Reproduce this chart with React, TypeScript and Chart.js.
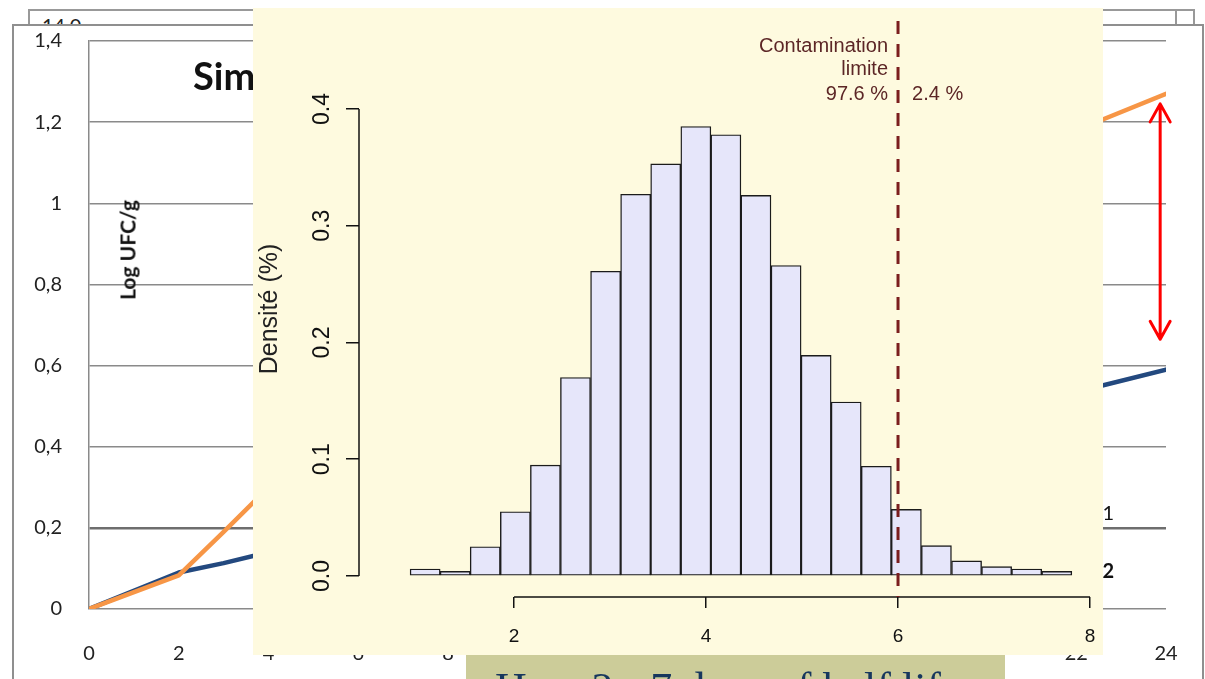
import React, { useEffect, useRef } from 'react';
import { Chart, registerables } from 'chart.js';

Chart.register(...registerables);

// ---------- Histogram (foreground) ----------
const binCenters = [1.074, 1.387, 1.700, 2.014, 2.327, 2.640, 2.954, 3.267, 3.580, 3.894, 4.207, 4.520, 4.834, 5.147, 5.460, 5.774, 6.087, 6.400, 6.714, 7.027, 7.340, 7.654];
const densities = [0.006, 0.004, 0.025, 0.055, 0.095, 0.170, 0.261, 0.327, 0.353, 0.385, 0.378, 0.326, 0.266, 0.189, 0.149, 0.094, 0.057, 0.026, 0.013, 0.008, 0.006, 0.004];
const histXTicks = [2, 4, 6, 8];
const histYTicks = [0, 0.1, 0.2, 0.3, 0.4];
const limitValue = 6;
const limitTitle = ['Contamination', 'limite'];
const shareBelow = '97.6 %';
const shareAbove = '2.4 %';
const histYTitle = 'Densité (%)';

// ---------- Background Excel line chart ----------
const hours = [0, 2, 3, 4, 6, 8, 10, 12, 14, 16, 18, 20, 22, 24];
const curveOrange = [0, 0.083, 0.19, 0.30, 0.44, 0.56, 0.67, 0.77, 0.86, 0.94, 1.02, 1.10, 1.18, 1.27];
const curveBlue = [0, 0.09, 0.113, 0.14, 0.18, 0.22, 0.26, 0.30, 0.34, 0.39, 0.43, 0.48, 0.535, 0.59];
const bgXTicks = [0, 2, 4, 6, 8, 10, 12, 14, 16, 18, 20, 22, 24];
const bgYTicks = [0, 0.2, 0.4, 0.6, 0.8, 1.0, 1.2, 1.4];
const legendEdgeValue = 0.2;
const arrowHour = 23.87;
const arrowRange = [0.665, 1.245];
const bgTitle = 'Simulation';
const bgYTitle = 'Log UFC/g';
const legendLabels = ['Série 1', 'Série 2'];
const caption = 'Hors 2 - 7 days of half life';
const backLabel = '14,0';

const HIST_FONT = '"Liberation Sans", Arial, sans-serif';
const XL_FONT = 'Lato, "Open Sans", sans-serif';

const arrowPlugin = {
  id: 'arrowPlugin',
  afterDatasetsDraw(chart: any) {
    const { ctx, scales } = chart;
    const x = scales.x;
    const y = scales.y;
    const px = x.getPixelForValue(arrowHour);
    const yTop = y.getPixelForValue(arrowRange[1]);
    const yBot = y.getPixelForValue(arrowRange[0]);
    ctx.save();
    ctx.strokeStyle = '#FF0000';
    ctx.lineWidth = 3;
    ctx.lineCap = 'round';
    ctx.lineJoin = 'round';
    ctx.beginPath();
    ctx.moveTo(px, yTop);
    ctx.lineTo(px, yBot);
    ctx.moveTo(px - 10, yTop + 18);
    ctx.lineTo(px, yTop);
    ctx.lineTo(px + 10, yTop + 18);
    ctx.moveTo(px - 10, yBot - 18);
    ctx.lineTo(px, yBot);
    ctx.lineTo(px + 10, yBot - 18);
    ctx.stroke();
    ctx.restore();
  },
};

const histPlugin = {
  id: 'histPlugin',
  afterDraw(chart: any) {
    const { ctx, chartArea, scales } = chart;
    const x = scales.x;
    const y = scales.y;
    ctx.save();
    // y axis line (0 to 0.4)
    ctx.strokeStyle = '#111';
    ctx.lineWidth = 1.5;
    const ax = chartArea.left;
    ctx.beginPath();
    ctx.moveTo(ax, y.getPixelForValue(histYTicks[0]));
    ctx.lineTo(ax, y.getPixelForValue(histYTicks[histYTicks.length - 1]));
    ctx.stroke();
    // x axis line (2 to 8)
    const by = chartArea.bottom;
    ctx.beginPath();
    ctx.moveTo(x.getPixelForValue(histXTicks[0]), by);
    ctx.lineTo(x.getPixelForValue(histXTicks[histXTicks.length - 1]), by);
    ctx.stroke();
    // rotated y tick labels
    ctx.font = `23px ${HIST_FONT}`;
    ctx.fillStyle = '#111';
    ctx.textAlign = 'center';
    ctx.textBaseline = 'middle';
    for (const v of histYTicks) {
      ctx.save();
      ctx.translate(ax - 36, y.getPixelForValue(v));
      ctx.rotate(-Math.PI / 2);
      ctx.fillText(v.toFixed(1), 0, 0);
      ctx.restore();
    }
    // dashed limit line
    const lx = x.getPixelForValue(limitValue);
    ctx.strokeStyle = '#7B1E1E';
    ctx.lineWidth = 3;
    ctx.setLineDash([13, 10]);
    ctx.beginPath();
    ctx.moveTo(lx, chartArea.top);
    ctx.lineTo(lx, chartArea.bottom);
    ctx.stroke();
    ctx.setLineDash([]);
    // annotations
    ctx.font = `20px ${HIST_FONT}`;
    ctx.fillStyle = '#5C2626';
    ctx.textAlign = 'right';
    ctx.fillText(limitTitle[0], lx - 10, chartArea.top + 25);
    ctx.fillText(limitTitle[1], lx - 10, chartArea.top + 48);
    ctx.fillText(shareBelow, lx - 10, chartArea.top + 73);
    ctx.textAlign = 'left';
    ctx.fillText(shareAbove, lx + 14, chartArea.top + 73);
    ctx.restore();
  },
};

export default function App() {
  const bgRef = useRef<HTMLCanvasElement>(null);
  const histRef = useRef<HTMLCanvasElement>(null);

  useEffect(() => {
    const bg = new Chart(bgRef.current as HTMLCanvasElement, {
      type: 'line',
      data: {
        datasets: [
          {
            label: legendLabels[0],
            data: hours.map((h, i) => ({ x: h, y: curveOrange[i] })),
            borderColor: '#F79646',
            borderWidth: 4.5,
            pointRadius: 0,
            tension: 0,
            borderJoinStyle: 'round',
            borderCapStyle: 'round',
          },
          {
            label: legendLabels[1],
            data: hours.map((h, i) => ({ x: h, y: curveBlue[i] })),
            borderColor: '#23497F',
            borderWidth: 4.5,
            pointRadius: 0,
            tension: 0,
            borderJoinStyle: 'round',
            borderCapStyle: 'round',
          },
        ],
      },
      options: {
        responsive: false,
        animation: false,
        events: [],
        layout: { padding: { top: 41, right: 39, left: 0, bottom: 0 } },
        plugins: { legend: { display: false }, tooltip: { enabled: false }, title: { display: false } },
        scales: {
          x: {
            type: 'linear',
            min: 0,
            max: 24,
            afterBuildTicks: (s: any) => { s.ticks = bgXTicks.map((v) => ({ value: v })); },
            afterFit: (s: any) => { s.height = 70; },
            grid: { display: false, drawTicks: false },
            border: { display: false },
            ticks: { padding: 0, font: { family: XL_FONT, size: 20, lineHeight: 4.5 }, color: '#222', maxRotation: 0, autoSkip: false },
          },
          y: {
            type: 'linear',
            min: 0,
            max: 1.4,
            afterBuildTicks: (s: any) => { s.ticks = bgYTicks.map((v) => ({ value: v })); },
            afterFit: (s: any) => { s.width = 89; },
            grid: {
              color: (c: any) => (c.tick && Math.abs(c.tick.value - legendEdgeValue) < 1e-6 ? '#6e6e6e' : '#8a8a8a'),
              lineWidth: (c: any) => (c.tick && Math.abs(c.tick.value - legendEdgeValue) < 1e-6 ? 2.5 : 1.5),
              drawTicks: false,
            },
            border: { display: true, color: '#8a8a8a', width: 1.5 },
            ticks: {
              padding: 27,
              font: { family: XL_FONT, size: 20 },
              color: '#222',
              callback: (v: any) => String(Number(Number(v).toFixed(1))).replace('.', ','),
            },
          },
        },
      },
      plugins: [arrowPlugin],
    } as any);

    const hist = new Chart(histRef.current as HTMLCanvasElement, {
      type: 'bar',
      data: {
        datasets: [
          {
            data: binCenters.map((c, i) => ({ x: c, y: densities[i] })),
            backgroundColor: '#E6E6FA',
            borderColor: '#1b1b1b',
            borderWidth: 1.4,
            borderSkipped: false,
            barPercentage: 1,
            categoryPercentage: 1,
          },
        ],
      },
      options: {
        responsive: false,
        animation: false,
        events: [],
        layout: { padding: { top: 13, right: 3, left: 0, bottom: 0 } },
        plugins: { legend: { display: false }, tooltip: { enabled: false } },
        scales: {
          x: {
            type: 'linear',
            min: 0.385,
            max: 8.104,
            offset: false,
            afterBuildTicks: (s: any) => { s.ticks = histXTicks.map((v) => ({ value: v })); },
            afterFit: (s: any) => { s.height = 58; },
            grid: { display: true, offset: false, drawOnChartArea: false, drawTicks: true, tickLength: 11, color: '#111', lineWidth: 1.5 },
            border: { display: false },
            ticks: { padding: 0, font: { family: HIST_FONT, size: 19, lineHeight: 3.05 }, color: '#111', maxRotation: 0, autoSkip: false },
          },
          y: {
            type: 'linear',
            min: -0.018,
            max: 0.4754,
            afterBuildTicks: (s: any) => { s.ticks = histYTicks.map((v) => ({ value: v })); },
            afterFit: (s: any) => { s.width = 106; },
            grid: { drawOnChartArea: false, drawTicks: true, tickLength: 13, color: '#111', lineWidth: 1.5 },
            border: { display: false },
            ticks: { display: false },
            title: { display: true, text: histYTitle, font: { family: HIST_FONT, size: 25 }, color: '#222', padding: { top: 2, bottom: 0 } },
          },
        },
      },
      plugins: [histPlugin],
    } as any);

    return () => {
      bg.destroy();
      hist.destroy();
    };
  }, []);

  return (
    <div style={{ position: 'fixed', left: 0, top: 0, width: 1205, height: 679, overflow: 'hidden', background: '#fff' }}>
      {/* back Excel frame */}
      <div style={{ position: 'absolute', left: 28, top: 9, width: 1163, height: 60, border: '2px solid #999', background: '#fff', zIndex: 1 }} />
      <div style={{ position: 'absolute', left: 1175, top: 9, width: 16, height: 16, borderLeft: '2px solid #999', zIndex: 1 }} />
      <div style={{ position: 'absolute', left: 42, top: 15, fontFamily: XL_FONT, fontSize: 20, lineHeight: '20px', color: '#222', zIndex: 1 }}>{backLabel}</div>
      {/* front Excel frame */}
      <div style={{ position: 'absolute', left: 12, top: 24, width: 1188, height: 700, border: '2px solid #8f8f8f', background: '#fff', zIndex: 2 }} />
      <canvas ref={bgRef} width={1205} height={679} style={{ position: 'absolute', left: 0, top: 0, width: 1205, height: 679, zIndex: 3 }} />
      <div style={{ position: 'absolute', left: 193, top: 56, fontFamily: XL_FONT, fontWeight: 700, fontSize: 38, lineHeight: '38px', color: '#111', whiteSpace: 'nowrap', zIndex: 4 }}>{bgTitle}</div>
      <div style={{ position: 'absolute', left: 127, top: 250, transform: 'translate(-50%, -50%) rotate(-90deg)', fontFamily: XL_FONT, fontWeight: 700, fontSize: 21, lineHeight: '21px', color: '#111', whiteSpace: 'nowrap', zIndex: 4 }}>{bgYTitle}</div>
      <div style={{ position: 'absolute', right: 1205 - 1114, top: 500, fontFamily: XL_FONT, fontSize: 20, lineHeight: '24px', color: '#111', whiteSpace: 'nowrap', zIndex: 4 }}>{legendLabels[0]}</div>
      <div style={{ position: 'absolute', right: 1205 - 1114, top: 558, fontFamily: XL_FONT, fontWeight: 700, fontSize: 20, lineHeight: '24px', color: '#111', whiteSpace: 'nowrap', zIndex: 4 }}>{legendLabels[1]}</div>
      {/* R histogram panel */}
      <div style={{ position: 'absolute', left: 253, top: 8, width: 850, height: 647, background: '#FEFADF', zIndex: 5 }}>
        <canvas ref={histRef} width={850} height={647} style={{ position: 'absolute', left: 0, top: 0, width: 850, height: 647 }} />
      </div>
      {/* caption box */}
      <div style={{ position: 'absolute', left: 466, top: 655, width: 539, height: 40, background: '#CCCC99', overflow: 'hidden', zIndex: 6 }}>
        <div style={{ position: 'absolute', left: 29, top: 12, fontFamily: '"Liberation Serif", "Times New Roman", serif', fontWeight: 400, fontSize: 44, lineHeight: '44px', color: '#17375E', whiteSpace: 'nowrap' }}>{caption}</div>
      </div>
    </div>
  );
}
